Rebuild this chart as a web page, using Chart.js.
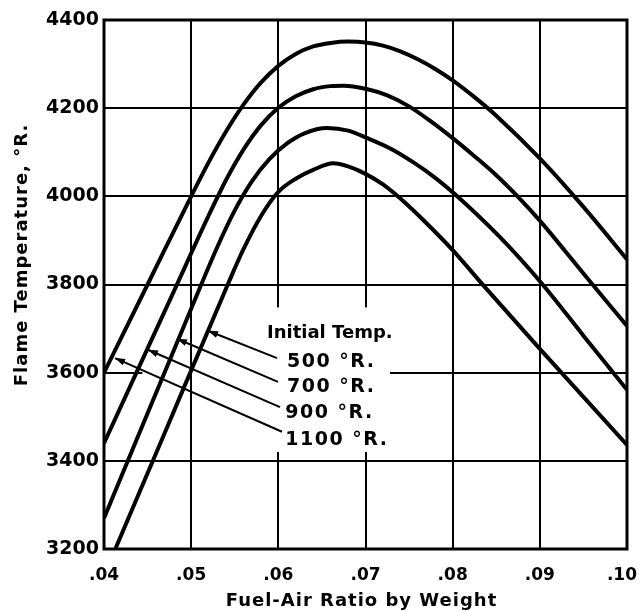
<!DOCTYPE html>
<html>
<head>
<meta charset="utf-8">
<script src="https://cdn.jsdelivr.net/npm/chart.js@4.4.1/dist/chart.umd.min.js"></script>
<style>
  html, body { margin: 0; padding: 0; background: #fff; }
  #wrap { width: 640px; height: 611px; }
</style>
</head>
<body>
<div id="wrap"><canvas id="flameChart" width="640" height="611"></canvas></div>
<script>
// series: fuel-air ratio (x) and flame temperature in deg R (y)
const seriesNames = ['1100 °R.', '900 °R.', '700 °R.', '500 °R.'];

const fa1100 = [0.040, 0.045, 0.050, 0.052, 0.054, 0.056, 0.058, 0.060, 0.062, 0.064, 0.066, 0.068, 0.070, 0.072, 0.074, 0.076, 0.078, 0.080, 0.0825, 0.085, 0.090, 0.095, 0.100];
const t1100  = [3600, 3800, 4000, 4077, 4147, 4208, 4258, 4296, 4323, 4340, 4348, 4351, 4349, 4342, 4329, 4311, 4289, 4263, 4225, 4183, 4086, 3976, 3857];

const fa900 = [0.040, 0.044, 0.048, 0.052, 0.054, 0.056, 0.058, 0.060, 0.062, 0.064, 0.066, 0.0675, 0.070, 0.0725, 0.075, 0.0775, 0.080, 0.0825, 0.085, 0.0875, 0.090, 0.095, 0.100];
const t900  = [3440, 3612, 3784, 3956, 4037, 4106, 4161, 4201, 4227, 4243, 4250, 4251, 4244, 4229, 4204, 4170, 4132, 4091, 4048, 3999, 3945, 3825, 3706];

const fa700 = [0.040, 0.045, 0.050, 0.053, 0.055, 0.057, 0.059, 0.061, 0.063, 0.0656, 0.068, 0.0702, 0.073, 0.0755, 0.078, 0.0802, 0.0854, 0.0902, 0.095, 0.100];
const t700  = [3270, 3508, 3745, 3885, 3968, 4035, 4085, 4120, 4143, 4155, 4149, 4132, 4107, 4077, 4042, 4006, 3908, 3803, 3684, 3561];

const fa500 = [0.0413, 0.047, 0.0542, 0.056, 0.058, 0.060, 0.062, 0.064, 0.0663, 0.068, 0.070, 0.072, 0.074, 0.077, 0.080, 0.0837, 0.090, 0.095, 0.100];
const t500  = [3200, 3465, 3800, 3880, 3955, 4010, 4040, 4060, 4075, 4068, 4051, 4027, 3995, 3939, 3878, 3794, 3654, 3545, 3436];

const xTicks = [0.04, 0.05, 0.06, 0.07, 0.08, 0.09, 0.10];
const xTickLabels = ['.04', '.05', '.06', '.07', '.08', '.09', '.10'];
const yTicks = [3200, 3400, 3600, 3800, 4000, 4200, 4400];

const xTitle = 'Fuel-Air Ratio by Weight';
const yTitle = 'Flame Temperature, °R.';
const legendTitle = 'Initial Temp.';
const legendLabels = ['500 °R.', '700 °R.', '900 °R.', '1100 °R.'];

// leader lines: start near the label, arrow tip on the curve (data coords)
const leaders = [
  { from: [0.05985, 3633], to: [0.05193, 3695] },
  { from: [0.05996, 3579], to: [0.04837, 3677] },
  { from: [0.06019, 3522], to: [0.04505, 3652] },
  { from: [0.06042, 3466], to: [0.04126, 3633] }
];
const legendTitlePos = [0.0587, 3679];
const legendLabelPos = [[0.0610, 3613], [0.0610, 3556], [0.0608, 3497], [0.0608, 3436]];
const blankBox = { x0: 0.0444, x1: 0.0728, y0: 3748, y1: 3420 };

const FONT = '"DejaVu Sans", sans-serif';

function toPoints(xs, ys) {
  return xs.map((v, i) => ({ x: v, y: ys[i] }));
}

const chartPaper = {
  id: 'chartPaper',
  beforeDatasetsDraw(chart) {
    const { ctx, scales: { x, y } } = chart;
    // the lettering sits on a blanked patch of the grid
    const l = x.getPixelForValue(blankBox.x0), r = x.getPixelForValue(blankBox.x1);
    const t = y.getPixelForValue(blankBox.y0), b = y.getPixelForValue(blankBox.y1);
    ctx.save();
    ctx.fillStyle = '#fff';
    ctx.fillRect(l, t, r - l, b - t);
    // but the .05 line runs straight through
    const gx = Math.round(x.getPixelForValue(0.05));
    ctx.strokeStyle = '#000';
    ctx.lineWidth = 2;
    ctx.beginPath();
    ctx.moveTo(gx, t - 1);
    ctx.lineTo(gx, b + 1);
    ctx.stroke();
    ctx.restore();
  },
  afterDatasetsDraw(chart) {
    const { ctx, chartArea: a, scales: { x, y } } = chart;
    ctx.save();
    // frame
    ctx.strokeStyle = '#000';
    ctx.lineWidth = 3;
    ctx.strokeRect(a.left, a.top, a.right - a.left, a.bottom - a.top);

    // leader lines with arrowheads
    ctx.lineWidth = 2;
    ctx.fillStyle = '#000';
    leaders.forEach(ld => {
      const x0 = x.getPixelForValue(ld.from[0]), y0 = y.getPixelForValue(ld.from[1]);
      const x1 = x.getPixelForValue(ld.to[0]), y1 = y.getPixelForValue(ld.to[1]);
      ctx.beginPath();
      ctx.moveTo(x0, y0);
      ctx.lineTo(x1, y1);
      ctx.stroke();
      const ang = Math.atan2(y1 - y0, x1 - x0);
      const len = 10, half = 3.5;
      const bx = x1 - Math.cos(ang) * len, by = y1 - Math.sin(ang) * len;
      ctx.beginPath();
      ctx.moveTo(x1, y1);
      ctx.lineTo(bx + Math.sin(ang) * half, by - Math.cos(ang) * half);
      ctx.lineTo(bx - Math.sin(ang) * half, by + Math.cos(ang) * half);
      ctx.closePath();
      ctx.fill();
    });

    // legend lettering
    ctx.textAlign = 'left';
    ctx.textBaseline = 'alphabetic';
    ctx.font = 'bold 18px ' + FONT;
    ctx.letterSpacing = '0px';
    ctx.fillText(legendTitle, x.getPixelForValue(legendTitlePos[0]), y.getPixelForValue(legendTitlePos[1]));
    ctx.font = 'bold 19px ' + FONT;
    ctx.letterSpacing = '1.5px';
    legendLabels.forEach((txt, i) => {
      ctx.fillText(txt, x.getPixelForValue(legendLabelPos[i][0]), y.getPixelForValue(legendLabelPos[i][1]));
    });

    // x tick labels, the last one kept inside the page
    ctx.font = 'bold 17px ' + FONT;
    ctx.letterSpacing = '0px';
    ctx.textAlign = 'center';
    xTicks.forEach((v, i) => {
      const w = ctx.measureText(xTickLabels[i]).width;
      const cx = Math.min(x.getPixelForValue(v), chart.width - 3 - w / 2);
      ctx.fillText(xTickLabels[i], cx, a.bottom + 31);
    });

    // axis titles
    ctx.font = 'bold 18px ' + FONT;
    ctx.letterSpacing = '1px';
    ctx.fillText(xTitle, (a.left + a.right) / 2 - 4, 606);
    ctx.translate(27, 255);
    ctx.rotate(-Math.PI / 2);
    ctx.fillText(yTitle, 0, 0);
    ctx.restore();
  }
};

const datasets = [
  toPoints(fa1100, t1100),
  toPoints(fa900, t900),
  toPoints(fa700, t700),
  toPoints(fa500, t500)
].map((pts, i) => ({
  label: seriesNames[i],
  data: pts,
  borderColor: '#000',
  borderWidth: 4,
  pointRadius: 0,
  fill: false,
  cubicInterpolationMode: 'monotone'
}));

const ctx = document.getElementById('flameChart').getContext('2d');
new Chart(ctx, {
  type: 'line',
  data: { datasets: datasets },
  options: {
    responsive: false,
    animation: false,
    events: [],
    layout: { padding: { left: 0, right: 13, top: 20, bottom: 0 } },
    plugins: {
      legend: { display: false },
      tooltip: { enabled: false }
    },
    scales: {
      x: {
        type: 'linear',
        min: 0.04,
        max: 0.10,
        afterBuildTicks: scale => { scale.ticks = xTicks.map(v => ({ value: v })); },
        afterFit: scale => { scale.height = 62; scale.paddingLeft = 0; scale.paddingRight = 0; },
        grid: { color: '#000', lineWidth: 2, drawTicks: false },
        border: { display: false },
        ticks: { display: false }
      },
      y: {
        type: 'linear',
        min: 3200,
        max: 4400,
        afterBuildTicks: scale => { scale.ticks = yTicks.map(v => ({ value: v })); },
        afterFit: scale => { scale.width = 104; scale.paddingTop = 0; scale.paddingBottom = 0; },
        grid: { color: '#000', lineWidth: 2, drawTicks: false },
        border: { display: false },
        ticks: {
          color: '#000',
          padding: 5,
          autoSkip: false,
          font: { family: FONT, size: 19, weight: 'bold' },
          callback: v => String(v)
        }
      }
    }
  },
  plugins: [chartPaper]
});
</script>
</body>
</html>
